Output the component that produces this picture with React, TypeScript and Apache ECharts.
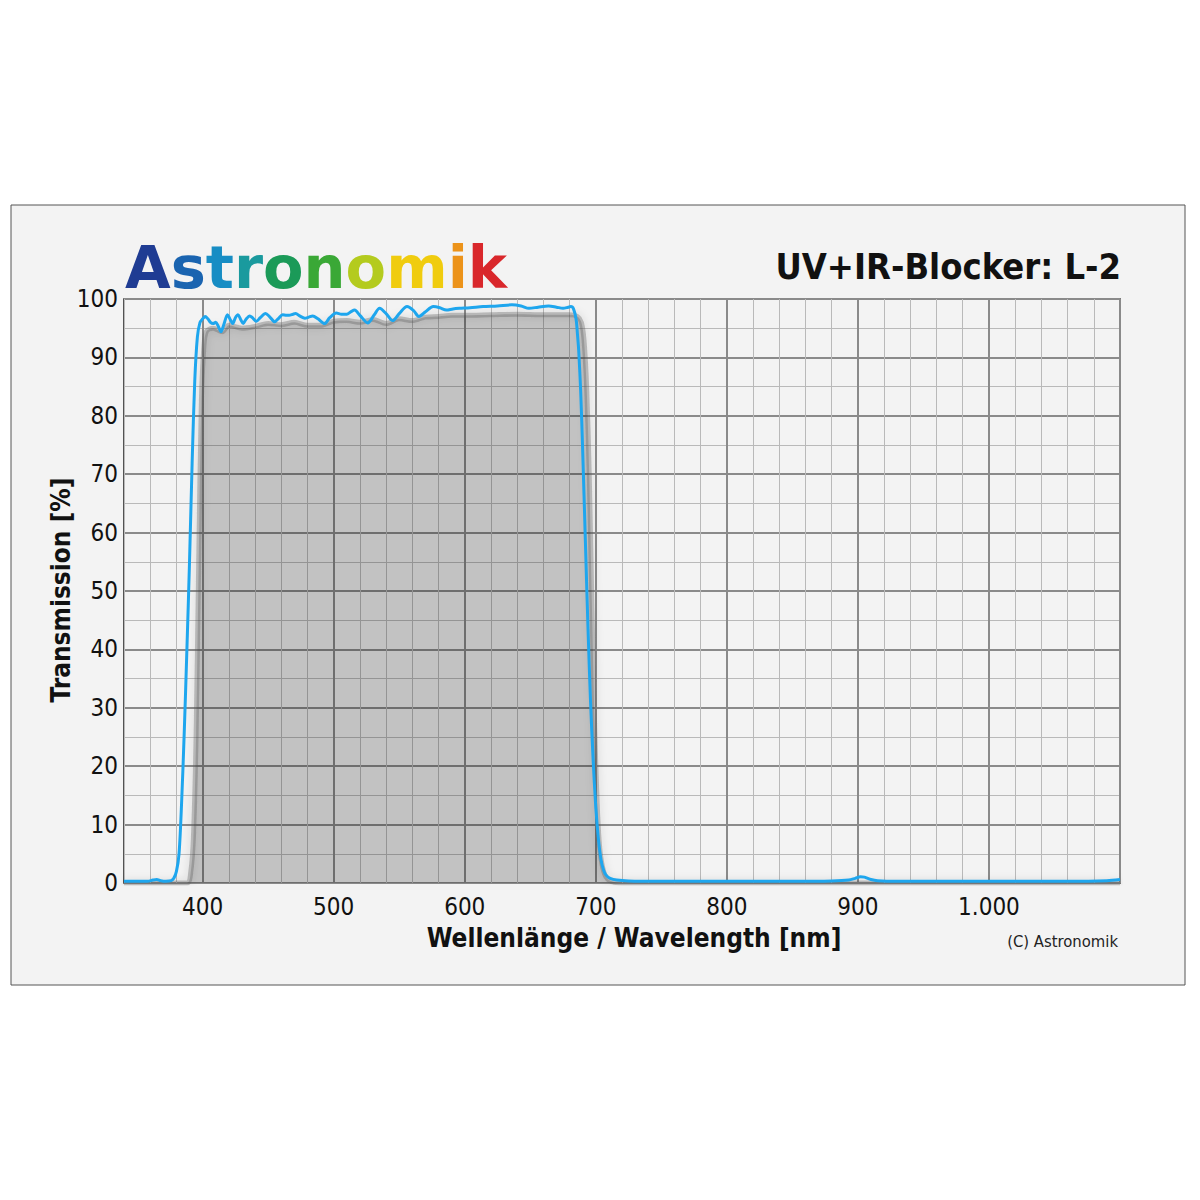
import React, { useEffect, useRef } from "react";
import * as echarts from "echarts";

// ---- Data ----
// Blue measured transmission curve
const blueNm = [340, 350, 358, 362, 365, 368, 372, 376, 378, 380, 382, 384, 386, 388, 390, 392, 394, 396, 398, 400, 402, 404, 406, 408, 410, 412, 414, 416, 419, 421, 423, 425, 427, 429, 431, 433, 436, 438, 441, 444, 448, 451, 455, 458, 461, 464, 466, 469, 471, 474, 478, 481, 484, 488, 493, 497, 502, 506, 510, 513, 516, 520, 526, 531, 535, 540, 545, 550, 556, 561, 565, 570, 576, 581, 586, 591, 596, 604, 614, 625, 636, 643, 649, 656, 664, 670, 675, 679, 681, 683, 685, 686, 687, 688.5, 690, 692, 694, 696, 698, 700, 702, 704, 706, 708, 711, 716, 725, 750, 800, 850, 880, 893, 898, 902, 905, 910, 915, 930, 1000, 1060, 1090, 1100];
const blueT = [0.3, 0.3, 0.3, 0.5, 0.6, 0.4, 0.3, 0.4, 0.8, 2, 5, 14, 26, 40, 55, 72, 86, 93.5, 96, 96.6, 97, 96.6, 96, 95.8, 96, 95.3, 94.4, 95.5, 97.3, 96.5, 95.8, 96.8, 97.3, 96.5, 95.8, 96.5, 97.1, 96.8, 96.2, 96.8, 97.5, 97, 96.1, 96.7, 97.3, 97.2, 97.2, 97.4, 97.5, 97.1, 96.7, 96.9, 97.1, 96.6, 95.8, 96.8, 97.6, 97.4, 97.4, 97.8, 98.1, 97.2, 95.9, 97.3, 98.4, 97.5, 96.3, 97.5, 98.7, 98, 97, 97.8, 98.7, 98.5, 98.1, 98.3, 98.4, 98.5, 98.7, 98.8, 99, 98.8, 98.4, 98.6, 98.8, 98.6, 98.4, 98.6, 98.7, 98.3, 96.5, 94, 91, 84, 74, 59, 44, 31, 21, 13, 7.5, 4, 2.2, 1.3, 0.8, 0.5, 0.35, 0.3, 0.3, 0.3, 0.35, 0.5, 0.8, 1.05, 1.0, 0.6, 0.4, 0.3, 0.3, 0.3, 0.4, 0.6];

// Gray reference curve (filled)
const grayNm = [340, 388, 391, 393, 395, 397, 399, 401, 403, 408, 415, 420, 430, 440, 450, 460, 470, 480, 490, 500, 510, 520, 530, 540, 550, 560, 570, 580, 590, 600, 620, 640, 660, 680, 686, 689, 691, 693, 695, 697, 699, 701, 703, 706, 710, 720, 1100];
const grayT = [0, 0, 2, 8, 25, 55, 82, 92, 94.5, 95, 94.4, 95.5, 95, 95.3, 95.8, 95.6, 96, 95.5, 95.5, 96.2, 96.3, 96, 96.5, 95.8, 96.6, 96.3, 96.9, 97, 97.2, 97.2, 97.3, 97.4, 97.3, 97.3, 97, 96, 93, 85, 70, 48, 28, 14, 6, 2, 0.5, 0, 0];

const xMin = 340;
const xMax = 1100;
const yMin = 0;
const yMax = 100;
const xLabelValues = [400, 500, 600, 700, 800, 900, 1000];
const yLabelValues = [0, 10, 20, 30, 40, 50, 60, 70, 80, 90, 100];

const titleText = "UV+IR-Blocker: L-2";
const logoLetters = ["A", "s", "t", "r", "o", "n", "o", "m", "i", "k"];
const logoColors = ["#1f3c93", "#1a64b0", "#178dc4", "#1a9a9e", "#1b9a58", "#3aa836", "#b4cb1e", "#f0cc0e", "#ec931a", "#d9272b"];
const xTitle = "Wellenlänge / Wavelength [nm]";
const yTitle = "Transmission [%]";
const copyright = "(C) Astronomik";

const fmtNum = (v: number) =>
  v >= 1000 ? `${Math.floor(v / 1000)}.${String(v % 1000).padStart(3, "0")}` : String(v);

const TRANSP = "rgba(0,0,0,0)";
const MINOR = "#b9b9b9";
const MAJOR = "#8a8a8a";
const LABEL_FONT = '"DejaVu Sans Condensed", "DejaVu Sans", sans-serif';

export default function App() {
  const ref = useRef<HTMLDivElement>(null);
  useEffect(() => {
    if (!ref.current) return;
    const chart = echarts.init(ref.current, null, { renderer: "svg" });
    const blue = blueNm.map((x, i) => [x, blueT[i]]);
    const gray = grayNm.map((x, i) => [x, grayT[i]]);

    const logoRich: Record<string, any> = {};
    const logoStr = logoLetters
      .map((ch, i) => {
        logoRich["l" + i] = {
          fill: logoColors[i],
          fontSize: 59,
          fontWeight: 900,
          fontFamily: '"DejaVu Sans", sans-serif',
        };
        return `{l${i}|${ch}}`;
      })
      .join("");

    const xCommon = {
      type: "value" as const,
      min: xMin,
      max: xMax,
      interval: 20,
      axisLine: { show: false },
      axisTick: { show: false },
    };
    const yCommon = {
      type: "value" as const,
      min: yMin,
      max: yMax,
      interval: 5,
      axisLine: { show: false },
      axisTick: { show: false },
    };

    chart.setOption({
      animation: false,
      backgroundColor: "#ffffff",
      grid: {
        left: 124,
        right: 80,
        top: 299,
        bottom: 317,
        show: true,
        borderColor: "#1e1e1e",
        borderWidth: 1.5,
        backgroundColor: TRANSP,
      },
      xAxis: [
        {
          ...xCommon,
          axisLabel: {
            fontSize: 24,
            fontFamily: LABEL_FONT,
            color: "#111",
            margin: 12,
            formatter: (v: number) => (xLabelValues.includes(v) ? fmtNum(v) : ""),
          },
          splitLine: {
            show: true,
            lineStyle: { width: 1, color: [MINOR, MINOR, MINOR, TRANSP, MINOR] },
          },
        },
        {
          ...xCommon,
          position: "bottom",
          axisLabel: { show: false },
          splitLine: {
            show: true,
            lineStyle: { width: 2, color: [TRANSP, TRANSP, TRANSP, MAJOR, TRANSP] },
          },
        },
      ],
      yAxis: [
        {
          ...yCommon,
          axisLabel: {
            fontSize: 24,
            fontFamily: LABEL_FONT,
            color: "#111",
            margin: 6,
            formatter: (v: number) => (yLabelValues.includes(v) ? String(v) : ""),
          },
          splitLine: {
            show: true,
            lineStyle: { width: 1, color: [TRANSP, MINOR] },
          },
        },
        {
          ...yCommon,
          position: "left",
          axisLabel: { show: false },
          splitLine: {
            show: true,
            lineStyle: { width: 2, color: [MAJOR, TRANSP] },
          },
        },
      ],
      series: [
        {
          type: "line",
          name: "gray",
          data: gray,
          xAxisIndex: 0,
          yAxisIndex: 0,
          showSymbol: false,
          smooth: 0.3,
          silent: true,
          z: 2,
          lineStyle: {
            color: "rgba(90,90,90,0.35)",
            width: 5,
            shadowBlur: 8,
            shadowColor: "rgba(0,0,0,0.35)",
          },
          areaStyle: { color: "rgba(0,0,0,0.2)", opacity: 1, origin: "start" },
        },
        {
          type: "line",
          name: "blue",
          data: blue,
          xAxisIndex: 0,
          yAxisIndex: 0,
          showSymbol: false,
          smooth: 0.3,
          silent: true,
          z: 3,
          lineStyle: { color: "#1ea6ee", width: 3 },
        },
      ],
      graphic: [
        {
          type: "rect",
          z: -10,
          shape: { x: 11, y: 205, width: 1174, height: 780 },
          style: { fill: "#f3f3f3", stroke: "#555555", lineWidth: 1 },
        },
        {
          type: "text",
          x: 125,
          y: 267,
          style: {
            text: logoStr,
            rich: logoRich,
            font: '900 59px "DejaVu Sans", sans-serif',
            verticalAlign: "middle",
            textAlign: "left",
          },
        },
        {
          type: "text",
          x: 1121,
          y: 266,
          style: {
            text: titleText,
            font: 'bold 36px "DejaVu Sans Condensed", "DejaVu Sans", sans-serif',
            textAlign: "right",
            verticalAlign: "middle",
            fill: "#111",
          },
        },
        {
          type: "text",
          x: 634,
          y: 938,
          style: {
            text: xTitle,
            font: 'bold 26px "DejaVu Sans Condensed", "DejaVu Sans", sans-serif',
            textAlign: "center",
            verticalAlign: "middle",
            fill: "#111",
          },
        },
        {
          type: "text",
          x: 61,
          y: 590,
          rotation: Math.PI / 2,
          style: {
            text: yTitle,
            font: 'bold 26px "DejaVu Sans Condensed", "DejaVu Sans", sans-serif',
            textAlign: "center",
            verticalAlign: "middle",
            fill: "#111",
          },
        },
        {
          type: "text",
          x: 1118,
          y: 941,
          style: {
            text: copyright,
            font: '16.5px "DejaVu Sans Condensed", "DejaVu Sans", sans-serif',
            textAlign: "right",
            verticalAlign: "middle",
            fill: "#222",
          },
        },
      ],
    });
    return () => chart.dispose();
  }, []);

  return (
    <div
      ref={ref}
      style={{ position: "absolute", left: 0, top: 0, width: 1200, height: 1200 }}
    />
  );
}
